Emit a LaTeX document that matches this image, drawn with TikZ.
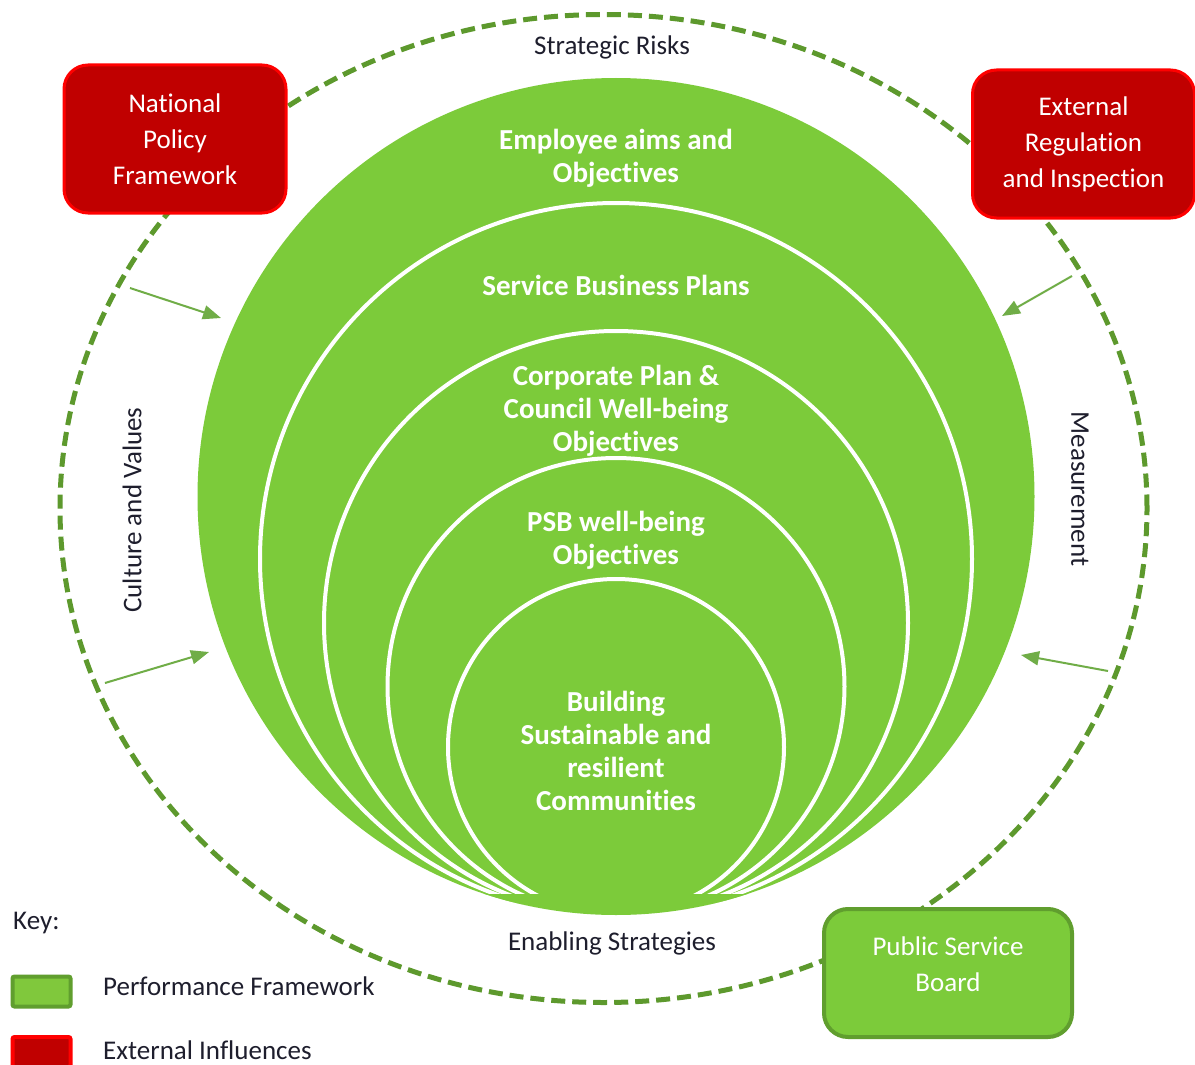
\documentclass[tikz,border=0pt]{standalone}
\usepackage{fontspec}
\setmainfont[Ligatures=NoCommon]{Carlito}
\usetikzlibrary{arrows.meta}
\definecolor{pfgreen}{RGB}{124,203,58}
\definecolor{dashgreen}{RGB}{93,153,45}
\definecolor{arrgreen}{RGB}{112,173,71}
\definecolor{boxred}{RGB}{192,0,0}
\definecolor{brdred}{RGB}{255,0,0}
\definecolor{brdgreen}{RGB}{96,158,46}
\definecolor{keygreen}{RGB}{128,200,60}
\definecolor{txtdark}{RGB}{30,30,45}
\begin{document}
\begin{tikzpicture}[x=1pt,y=-1pt,
  ring/.style={fill=pfgreen, draw=white, line width=4pt},
  ringtext/.style={text=white, font=\fontsize{29}{33}\selectfont\bfseries, align=center, inner sep=0pt},
  redbox/.style={fill=boxred, draw=brdred, line width=3pt, rounded corners=24pt, minimum width=222pt, minimum height=148pt, text=white, font=\fontsize{27}{36}\selectfont, align=center, inner sep=0pt},
  greenbox/.style={fill=pfgreen, draw=brdgreen, line width=4pt, rounded corners=24pt, minimum width=248pt, minimum height=128pt, inner sep=0pt},
  boxtext/.style={text=white, font=\fontsize{27}{36}\selectfont, align=center, inner sep=0pt},
  plain/.style={text=txtdark, font=\fontsize{27}{32}\selectfont, inner sep=0pt},
  influence/.style={draw=arrgreen, line width=2pt, -{Triangle[length=18pt,width=14pt]}},
  frameline/.style={draw=dashgreen, line width=5pt, dash pattern=on 14pt off 7pt},
  swatch/.style={line width=4pt, minimum width=58pt, minimum height=30pt, inner sep=0pt, rounded corners=2pt},
]
\useasboundingbox (0,0) rectangle (1195,1065);
\fill[white] (0,0) rectangle (1195,1065);

% outer dashed frame
\draw[frameline] (603.5,508.5) ellipse [x radius=543.5pt, y radius=494pt];

% nested circles
\begin{scope}
\clip (0,0) rectangle (1195,915);
\fill[pfgreen] (616,496.5) circle (418.5pt);
\draw[ring] (616,559) circle (356pt);
\draw[ring] (616,623) circle (292pt);
\draw[ring] (616,686.5) circle (228.5pt);
\draw[ring] (616,747) circle (168pt);
\end{scope}
\begin{scope}
\clip (616,496.5) circle (418.5pt);
\fill[pfgreen] (420,894) rectangle (812,916);
\end{scope}

\node[ringtext] (c1) at (616,158) {Employee aims and\\Objectives};
\node[ringtext] (c2) at (616,285) {Service Business Plans};
\node[ringtext] (c3) at (616,411) {Corporate Plan \&\\Council Well-being\\Objectives};
\node[ringtext] (c4) at (616,540) {PSB well-being\\Objectives};
\node[ringtext] (c5) at (616,751) {Building\\Sustainable and\\resilient\\Communities};

% labels on the frame
\node[plain] (risks) at (612,47) {Strategic Risks};
\node[plain] (enab) at (612,943) {Enabling Strategies};
\node[plain, rotate=90] (cult) at (132,510) {Culture and Values};
\node[plain, rotate=-90] (meas) at (1080,489) {Measurement};

% external boxes
\node[redbox] (npf) at (175,139) {National\\Policy\\Framework};
\node[redbox] (eri) at (1083.5,144) {External\\Regulation\\and Inspection};
\node[greenbox] (psb) at (948,973) {};
\node[boxtext] (psbt) at (948,964) {Public Service\\Board};

% influence arrows
\coordinate (a1s) at (130,288);
\coordinate (a1e) at (221,318);
\coordinate (a2s) at (105,683);
\coordinate (a2e) at (209,652);
\coordinate (a3s) at (1072,276);
\coordinate (a3e) at (1002,316);
\coordinate (a4s) at (1108,671);
\coordinate (a4e) at (1021,655);
\draw[influence] (a1s) -- (a1e);
\draw[influence] (a2s) -- (a2e);
\draw[influence] (a3s) -- (a3e);
\draw[influence] (a4s) -- (a4e);

% key
\node[plain, anchor=west] (key) at (13,923) {Key:};
\node[swatch, fill=keygreen, draw=brdgreen] (kg) at (41.5,991.5) {};
\node[swatch, fill=boxred, draw=brdred] (kr) at (41.5,1052) {};
\node[plain, anchor=west] (kgl) at (103,986) {Performance Framework};
\node[plain, anchor=west] (krl) at (103,1050) {External Influences};
\end{tikzpicture}
\end{document}
